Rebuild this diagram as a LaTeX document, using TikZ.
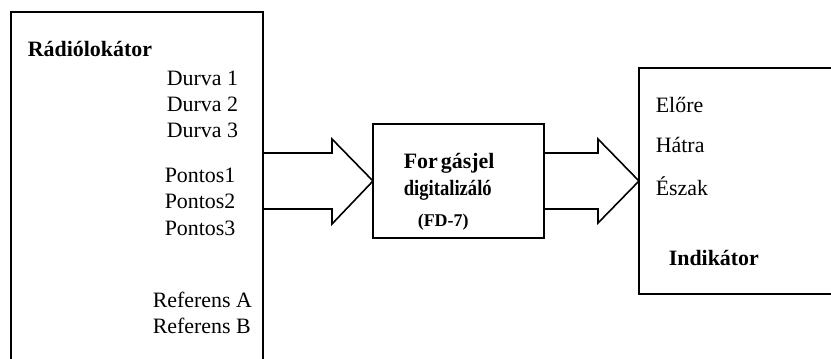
\documentclass[tikz,border=0pt]{standalone}
\usepackage{graphicx}
\usepackage{fontspec}
\setmainfont{Liberation Serif}
\begin{document}
\begin{tikzpicture}[x=1bp,y=-1bp,line width=1.6bp,
  box/.style={draw,line width=1.6bp,inner sep=0pt,outer sep=0pt,anchor=north west},
  lbl/.style={anchor=base west,inner sep=0pt,font=\fontsize{22}{26}\selectfont},
  blbl/.style={anchor=base west,inner sep=0pt,font=\bfseries\fontsize{22}{26}\selectfont},
  blockarrow/.style={draw,line width=1.6bp,line join=miter}]
\useasboundingbox (0,0) rectangle (831,358);
\clip (0,0) rectangle (831,358);
% boxes
\node[box,minimum width=252bp,minimum height=370bp] (radar) at (11,12) {};
\node[box,minimum width=171bp,minimum height=114bp] (fd) at (373,124) {};
\node[box,minimum width=220bp,minimum height=226bp] (ind) at (639,68) {};
% block arrows
\draw[blockarrow] (radar.east |- 0,153) -- (332,153) -- (332,139) -- (fd.west)
  -- (332,224) -- (332,209) -- (radar.east |- 0,209);
\draw[blockarrow] (fd.east |- 0,153) -- (598,153) -- (598,139) -- (ind.west)
  -- (598,223) -- (598,209) -- (fd.east |- 0,209);
% left box texts
\node[blbl] (t0) at (27,56) {Rádiólokátor};
\node[lbl] (t1) at (166,85) {Durva 1};
\node[lbl] (t2) at (166,111) {Durva 2};
\node[lbl] (t3) at (166,137) {Durva 3};
\node[lbl] (t4) at (164,182) {Pontos1};
\node[lbl] (t5) at (164,208) {Pontos2};
\node[lbl] (t6) at (164,235) {Pontos3};
\node[lbl] (t7) at (152,307) {Referens A};
\node[lbl] (t8) at (152,333) {Referens B};
% middle texts
\node[blbl] (m1) at (403,168) {For\kern3bp gásjel};
\node[blbl] (m2) at (403,195) {\scalebox{0.85}[1]{digitalizáló}};
\node[blbl,font=\bfseries\fontsize{18}{20}\selectfont] (m3) at (417,226) {(FD-7)};
% right box texts
\node[lbl] (r1) at (655,112) {Előre};
\node[lbl] (r2) at (655,152) {Hátra};
\node[lbl] (r3) at (655,195) {Észak};
\node[blbl] (r4) at (668,265) {Indikátor};
\end{tikzpicture}
\end{document}
